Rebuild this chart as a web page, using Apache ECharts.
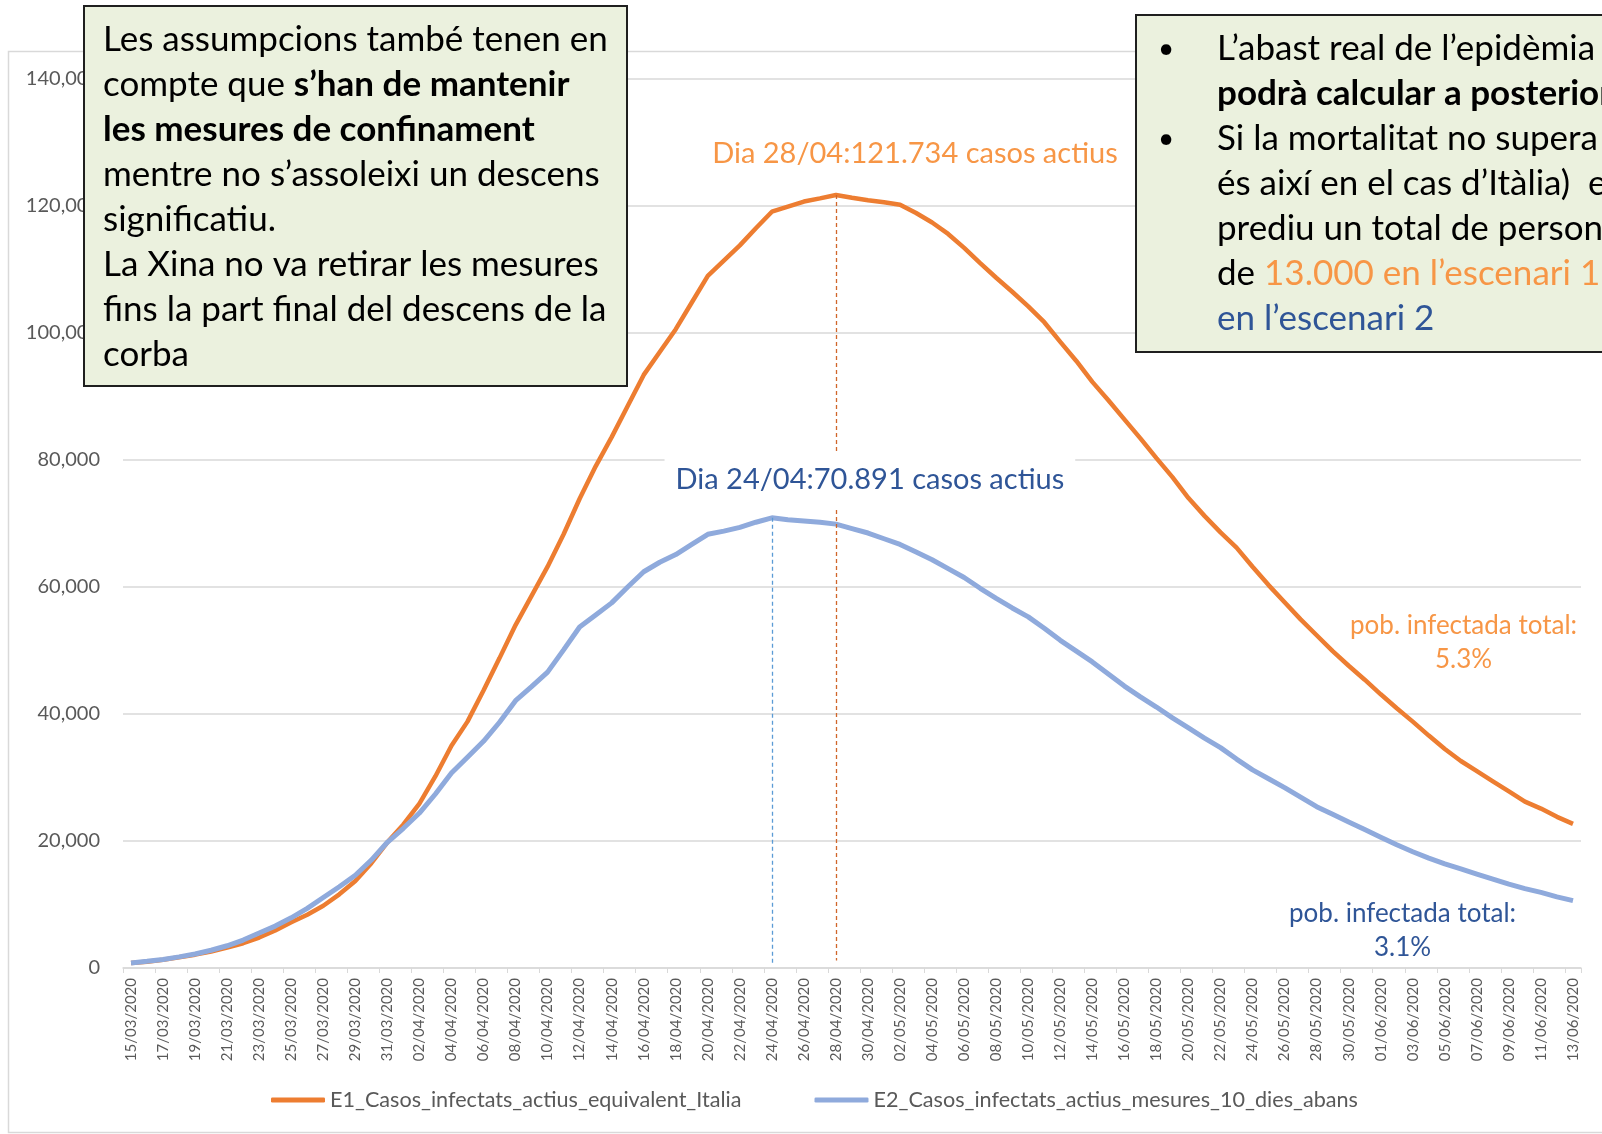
<!DOCTYPE html>
<html>
<head>
<meta charset="utf-8">
<script src="https://cdn.jsdelivr.net/npm/echarts@6/dist/echarts.min.js"></script>
<style>
html, body { margin: 0; padding: 0; background: #fff; }
#chart { width: 1602px; height: 1134px; }
</style>
</head>
<body>
<div id="chart"></div>
<script>
// dies (categories)
var dies = [
    '15/03/2020','16/03/2020','17/03/2020','18/03/2020','19/03/2020','20/03/2020','21/03/2020','22/03/2020','23/03/2020','24/03/2020',
    '25/03/2020','26/03/2020','27/03/2020','28/03/2020','29/03/2020','30/03/2020','31/03/2020',
    '01/04/2020','02/04/2020','03/04/2020','04/04/2020','05/04/2020','06/04/2020','07/04/2020','08/04/2020','09/04/2020','10/04/2020',
    '11/04/2020','12/04/2020','13/04/2020','14/04/2020','15/04/2020','16/04/2020','17/04/2020','18/04/2020','19/04/2020','20/04/2020',
    '21/04/2020','22/04/2020','23/04/2020','24/04/2020','25/04/2020','26/04/2020','27/04/2020','28/04/2020','29/04/2020','30/04/2020',
    '01/05/2020','02/05/2020','03/05/2020','04/05/2020','05/05/2020','06/05/2020','07/05/2020','08/05/2020','09/05/2020','10/05/2020',
    '11/05/2020','12/05/2020','13/05/2020','14/05/2020','15/05/2020','16/05/2020','17/05/2020','18/05/2020','19/05/2020','20/05/2020',
    '21/05/2020','22/05/2020','23/05/2020','24/05/2020','25/05/2020','26/05/2020','27/05/2020','28/05/2020','29/05/2020','30/05/2020',
    '31/05/2020','01/06/2020','02/06/2020','03/06/2020','04/06/2020','05/06/2020','06/06/2020','07/06/2020','08/06/2020','09/06/2020',
    '10/06/2020','11/06/2020','12/06/2020','13/06/2020'
];

// E1 escenari Italia
var e1_casos = [
    800, 1000, 1300, 1700, 2100, 2600, 3200, 3900, 4800, 5900,
    7200, 8400, 9800, 11600, 13700, 16500, 19800,
    22600, 25900, 30200, 35000, 38800, 43700, 48800, 54000, 58600, 63200,
    68300, 73900, 79000, 83600, 88500, 93400, 97000, 100600, 104800, 109000,
    111400, 113800, 116500, 119100, 119900, 120700, 121200, 121734, 121300, 120900,
    120600, 120200, 118900, 117400, 115600, 113400, 111000, 108700, 106500, 104200,
    101700, 98600, 95600, 92300, 89400, 86400, 83400, 80300, 77300, 74000,
    71200, 68600, 66200, 63200, 60300, 57600, 54900, 52400, 49900, 47600,
    45400, 43100, 40900, 38800, 36600, 34500, 32600, 31000, 29400, 27800,
    26200, 25100, 23800, 22700
];

// E2 mesures 10 dies abans
var e2_casos = [
    800, 1050, 1350, 1750, 2200, 2800, 3500, 4400, 5500, 6600,
    7900, 9400, 11100, 12800, 14600, 17000, 19800,
    22000, 24400, 27400, 30700, 33200, 35700, 38700, 42100, 44300, 46600,
    50100, 53700, 55600, 57500, 60000, 62400, 63900, 65100, 66700, 68300,
    68800, 69400, 70200, 70891, 70600, 70400, 70200, 69900, 69200, 68500,
    67600, 66700, 65500, 64300, 62900, 61500, 59800, 58200, 56700, 55300,
    53500, 51600, 49900, 48200, 46300, 44400, 42700, 41100, 39400, 37800,
    36200, 34700, 32900, 31200, 29800, 28400, 26900, 25400, 24200, 23000,
    21800, 20600, 19400, 18300, 17300, 16400, 15600, 14800, 14000, 13200,
    12500, 11900, 11200, 10600
];

var serie_noms = ['E1_Casos_infectats_actius_equivalent_Italia', 'E2_Casos_infectats_actius_mesures_10_dies_abans'];
var pob_infectada = ['5.3%', '3.1%'];

var ff = "Lato, 'Open Sans', sans-serif";
var taronja = '#ED7D31', blau = '#8FAADC';
var text_taronja = '#F79646', text_blau = '#2F5597';

function pic(arr) {
    var mx = Math.max.apply(null, arr);
    return { idx: arr.indexOf(mx), val: mx };
}
function punts(v) { // 121734 -> 121.734
    return String(v).replace(/\B(?=(\d{3})+(?!\d))/g, '.');
}

var pic1 = pic(e1_casos), pic2 = pic(e2_casos);

var chart = echarts.init(document.getElementById('chart'));
var option = {
    animation: false,
    backgroundColor: '#fff',
    grid: { left: 123, right: 21, top: 79, bottom: 166, containLabel: false },
    legend: {
        bottom: 18, left: 266,
        itemWidth: 54, itemHeight: 5, itemGap: 73,
        icon: 'roundRect',
        textStyle: { color: '#595959', fontSize: 21.6, fontFamily: ff },
        data: serie_noms
    },
    xAxis: {
        type: 'category',
        data: dies,
        boundaryGap: true,
        axisLine: { lineStyle: { color: '#d9d9d9', width: 1.5 } },
        axisTick: { show: true, interval: 1, length: 5, lineStyle: { color: '#d9d9d9' } },
        axisLabel: { interval: 1, rotate: 90, margin: 10, color: '#595959', fontSize: 15, fontFamily: ff }
    },
    yAxis: {
        type: 'value',
        min: 0, max: 140000, interval: 20000,
        axisLine: { show: false },
        axisTick: { show: false },
        splitLine: { lineStyle: { color: '#d9d9d9', width: 1.5 } },
        axisLabel: {
            margin: 23, color: '#595959', fontSize: 20, fontFamily: ff,
            formatter: function (v) { return v.toLocaleString('en-US'); }
        }
    },
    series: [
        {
            name: serie_noms[0],
            type: 'line',
            data: e1_casos,
            showSymbol: false,
            lineStyle: { color: taronja, width: 4.5 },
            itemStyle: { color: taronja },
            markLine: {
                silent: true, symbol: ['none', 'none'],
                label: { show: false },
                lineStyle: { color: '#D0662A', type: [4, 3], width: 1.3 },
                data: [[{ coord: [dies[pic1.idx], pic1.val] }, { coord: [dies[pic1.idx], 1200] }]]
            },
            markPoint: {
                symbol: 'circle', symbolSize: 0, silent: true,
                label: {
                    show: true, offset: [79, -41],
                    color: text_taronja, fontSize: 29, fontFamily: ff,
                    formatter: 'Dia ' + dies[pic1.idx].slice(0, 5) + ':' + punts(pic1.val) + ' casos actius'
                },
                data: [{ coord: [dies[pic1.idx], pic1.val] }]
            }
        },
        {
            name: serie_noms[1],
            type: 'line',
            data: e2_casos,
            showSymbol: false,
            lineStyle: { color: blau, width: 5 },
            itemStyle: { color: blau },
            markLine: {
                silent: true, symbol: ['none', 'none'],
                label: { show: false },
                lineStyle: { color: '#5B9BD5', type: [4, 3], width: 1.3 },
                data: [[{ coord: [dies[pic2.idx], pic2.val] }, { coord: [dies[pic2.idx], 600] }]]
            },
            markPoint: {
                symbol: 'circle', symbolSize: 0, silent: true, z: 10,
                label: {
                    show: true, offset: [98, -38],
                    color: text_blau, fontSize: 29, fontFamily: ff,
                    backgroundColor: '#fff', padding: [13, 11, 13, 11],
                    formatter: 'Dia ' + dies[pic2.idx].slice(0, 5) + ':' + punts(pic2.val) + ' casos actius'
                },
                data: [{ coord: [dies[pic2.idx], pic2.val] }]
            }
        }
    ],
    graphic: [
        { // marc del grafic
            type: 'rect', z: -10, silent: true,
            shape: { x: 8.5, y: 51.5, width: 1700, height: 1081 },
            style: { fill: 'none', stroke: '#d9d9d9', lineWidth: 1.5 }
        },
        {
            type: 'text', left: 1350, top: 609, z: 50,
            style: {
                text: 'pob. infectada total:\n' + pob_infectada[0], textAlign: 'center',
                fill: text_taronja, fontSize: 26, lineHeight: 34, fontFamily: ff
            }
        },
        {
            type: 'text', left: 1289, top: 897, z: 50,
            style: {
                text: 'pob. infectada total:\n' + pob_infectada[1], textAlign: 'center',
                fill: text_blau, fontSize: 26, lineHeight: 34, fontFamily: ff
            }
        },
        { // quadre esquerre
            type: 'rect', z: 100,
            shape: { x: 84, y: 6, width: 543, height: 380 },
            style: { fill: '#EBF1DE', stroke: '#1f1f1f', lineWidth: 2 }
        },
        {
            type: 'text', x: 103, y: 17, z: 101,
            style: {
                text: 'Les assumpcions també tenen en\ncompte que {b|s’han de mantenir}\n{b|les mesures de confinament}\nmentre no s’assoleixi un descens\nsignificatiu.\nLa Xina no va retirar les mesures\nfins la part final del descens de la\ncorba',
                fill: '#000', fontSize: 35, lineHeight: 45, fontFamily: ff,
                rich: { b: { fontWeight: 'bold', fontSize: 35, lineHeight: 45, fontFamily: ff, fill: '#000' } }
            }
        },
        { // quadre dret
            type: 'rect', z: 100,
            shape: { x: 1136, y: 15, width: 520, height: 337 },
            style: { fill: '#EBF1DE', stroke: '#1f1f1f', lineWidth: 2 }
        },
        {
            type: 'text', x: 1158, y: 26, z: 101,
            style: { text: '•\n\n•', fill: '#000', fontSize: 28, lineHeight: 45, fontFamily: ff }
        },
        {
            type: 'text', x: 1217, y: 26, z: 101,
            style: {
                text: 'L’abast real de l’epidèmia\n{b|podrà calcular a posteriori}\nSi la mortalitat no supera\nés així en el cas d’Itàlia)  e\nprediu un total de person\nde {o|13.000 en l’escenari 1}\n{a|en l’escenari 2}',
                fill: '#000', fontSize: 35, lineHeight: 45, fontFamily: ff,
                rich: {
                    b: { fontWeight: 'bold', fontSize: 35, lineHeight: 45, fontFamily: ff, fill: '#000' },
                    o: { fontSize: 35, lineHeight: 45, fontFamily: ff, fill: text_taronja },
                    a: { fontSize: 35, lineHeight: 45, fontFamily: ff, fill: text_blau }
                }
            }
        }
    ]
};
chart.setOption(option, true);
window.onresize = function () { chart.resize(); };
</script>
</body>
</html>
